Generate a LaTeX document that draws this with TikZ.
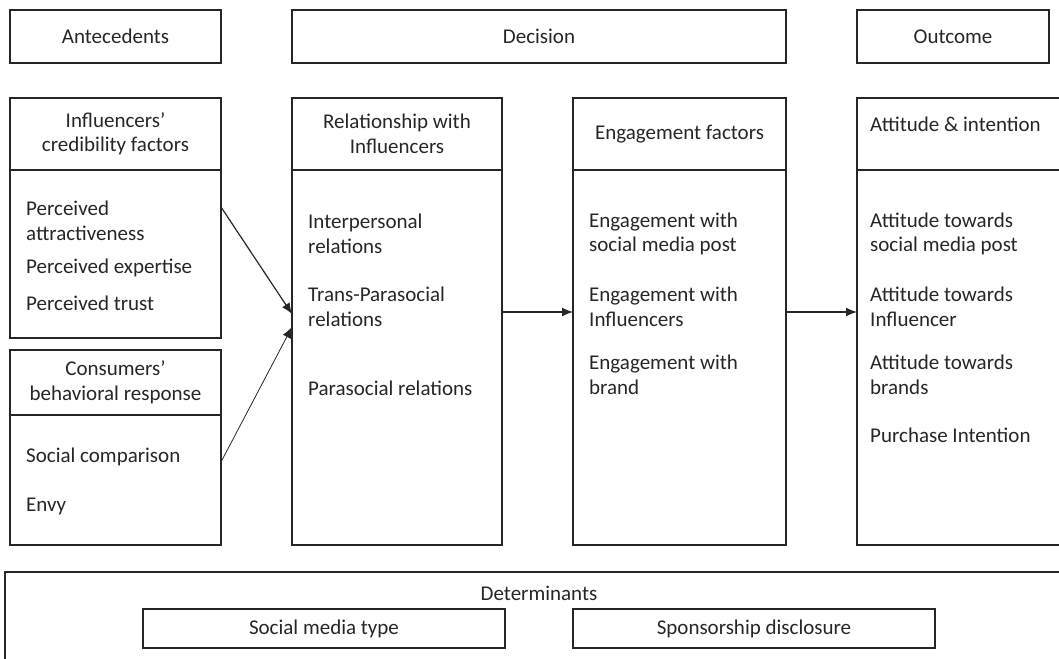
\documentclass[tikz,border=0pt]{standalone}
\usepackage{fontspec}
\setmainfont{Carlito}
\usetikzlibrary{arrows.meta,positioning}
\begin{document}
\begin{tikzpicture}[x=1pt,y=-1pt,
    every node/.style={font=\fontsize{21}{24.5}\selectfont, text=black!85},
    panel/.style={draw=black!85, line width=1.2pt, inner sep=0pt, align=center},
    item/.style={anchor=west, align=left, inner sep=0pt},
    link/.style={-{Latex[length=11pt,width=9pt]}, line width=1.2pt, black!85}]
    \useasboundingbox (0,0) rectangle (1059,658);
    % top row
    \node[panel, minimum width=211, minimum height=53] (ante) at (115.5,36.5) {Antecedents};
    \node[panel, minimum width=494, minimum height=53] (deci) at (539,36.5) {Decision};
    \node[panel, minimum width=192, minimum height=53] (outc) at (953,36.5) {Outcome};
    % antecedents
    \node[panel, minimum width=211, minimum height=72] (credh) at (115.5,134) {Influencers'\\credibility factors};
    \node[panel, minimum width=211, minimum height=168] (credb) at (115.5,254) {};
    \node[panel, minimum width=211, minimum height=65] (consh) at (115.5,382.5) {Consumers'\\behavioral response};
    \node[panel, minimum width=211, minimum height=130] (consb) at (115.5,480) {};
    \node[item] (attr) at (26,221) {Perceived\\attractiveness};
    \node[item] (expe) at (26,268) {Perceived expertise};
    \node[item] (trus) at (26,303) {Perceived trust};
    \node[item] (comp) at (26,457) {Social comparison};
    \node[item] (envy) at (26,506) {Envy};
    % decision
    \node[panel, minimum width=210, minimum height=72] (relh) at (397,134) {Relationship with\\Influencers};
    \node[panel, minimum width=210, minimum height=375] (relb) at (397,357.5) {};
    \node[item] (inter) at (308,234) {Interpersonal\\relations};
    \node[item] (trans) at (308,307) {Trans-Parasocial\\relations};
    \node[item] (para) at (308,388) {Parasocial relations};
    \node[panel, minimum width=213, minimum height=72] (engh) at (679.5,134) {Engagement factors};
    \node[panel, minimum width=213, minimum height=375] (engb) at (679.5,357.5) {};
    \node[item] (epost) at (589,234) {Engagement with\\social media post};
    \node[item] (einf) at (589,307) {Engagement with\\Influencers};
    \node[item] (ebrand) at (589,375) {Engagement with\\brand};
    % outcome
    \node[panel, minimum width=212, minimum height=72] (atth) at (963,134) {};
    \node[panel, minimum width=212, minimum height=375] (attb) at (963,357.5) {};
    \node[item] (attint) at (870,124) {Attitude \& intention};
    \node[item] (apost) at (870,234) {Attitude towards\\social media post};
    \node[item] (ainf) at (870,307) {Attitude towards\\Influencer};
    \node[item] (abrand) at (870,375) {Attitude towards\\brands};
    \node[item] (pint) at (870,435) {Purchase Intention};
    % determinants
    \node[panel, minimum width=1065, minimum height=98] (det) at (537.5,621) {};
    \node (detl) at (539,593) {Determinants};
    \node[panel, minimum width=362, minimum height=39] (smt) at (324,628.5) {Social media type};
    \node[panel, minimum width=362, minimum height=39] (spd) at (754,628.5) {Sponsorship disclosure};
    % arrows
    \coordinate (c1) at (221,207);
    \coordinate (c2) at (221,462);
    \coordinate (t1) at (292,314);
    \coordinate (t2) at (292,327);
    \coordinate (r1) at (502,312);
    \coordinate (e1) at (573,312);
    \coordinate (e2) at (786,312);
    \coordinate (o1) at (857,312);
    \draw[link] (c1) -- (t1);
    \draw[link, line width=0.8pt] (c2) -- (t2);
    \draw[link] (r1) -- (e1);
    \draw[link] (e2) -- (o1);
\end{tikzpicture}
\end{document}
